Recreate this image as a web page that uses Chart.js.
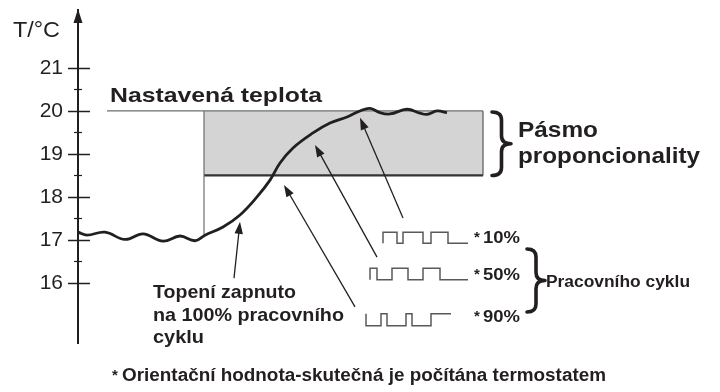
<!DOCTYPE html>
<html><head><meta charset="utf-8">
<script src="https://cdn.jsdelivr.net/npm/chart.js@4.4.1/dist/chart.umd.min.js"></script>
<style>html,body{margin:0;padding:0;background:#fff;}#wrap{width:720px;height:392px;position:relative}</style>
</head><body><div id="wrap"><canvas id="c" width="720" height="392"></canvas></div>
<script>
// ---- data (time in arbitrary units, temperature in °C) ----
const yTicks = [16, 17, 18, 19, 20, 21];
const yMinorTicks = [16.5, 17.5, 18.5, 19.5, 20.5];
const curveTime = [0, 9, 27, 47, 65, 85, 102, 117, 127, 145, 162, 179, 192, 202, 215, 235, 252, 269, 282, 292, 302, 312, 329, 342, 349, 359, 369];
const curveTemp = [17.18, 17.11, 17.18, 17.01, 17.14, 16.97, 17.09, 16.98, 17.11, 17.30, 17.58, 18.00, 18.39, 18.79, 19.14, 19.49, 19.72, 19.86, 20.00, 20.06, 19.96, 19.93, 20.04, 19.95, 19.92, 20.00, 19.96];
const setPoint = 20;
const bandLow = 18.5;
const bandTime = [126, 405];
const setLineTime = [29, 405];
const dropTemp = 17.1;
const wave10Time = [305, 319, 325, 345, 353, 370, 378, 390];
const wave10Level = [0, 1, 0, 1, 0, 1, 0, 0];
const wave10Temp = [16.92, 17.18];
const wave50Time = [292, 299, 314, 330, 345, 362, 379, 390];
const wave50Level = [0, 1, 0, 1, 0, 1, 0, 0];
const wave50Temp = [16.07, 16.34];
const wave90Time = [288, 303, 309, 328, 334, 353, 359, 373];
const wave90Level = [1, 0, 1, 0, 1, 0, 1, 1];
const wave90Temp = [15.00, 15.28];
const arrowFromTime = [156, 277, 299, 325];
const arrowFromTemp = [16.11, 15.44, 16.60, 17.51];
const arrowToTime = [162, 206, 237, 282];
const arrowToTemp = [17.42, 18.28, 19.21, 19.84];

const ink = '#231f20';
const FONT = '"Liberation Sans", Arial, Helvetica, sans-serif';

const pts = (xs, ys) => xs.map((x, i) => ({x, y: ys[i]}));
const wavePts = (xs, lv, t) => xs.map((x, i) => ({x, y: t[lv[i]]}));
const thin = (data, color, width) => ({data, borderColor: color, borderWidth: width, pointRadius: 0, fill: false, tension: 0});

const datasets = [
  {data: pts(curveTime, curveTemp), borderColor: ink, borderWidth: 2.8, pointRadius: 0, tension: 0.4, fill: false, order: 0},
  Object.assign(thin(pts(setLineTime, [setPoint, setPoint]), '#6d6e70', 1.2), {order: 1}),
  Object.assign(thin(pts([bandTime[0], bandTime[0]], [setPoint, dropTemp]), '#6d6e70', 1.2), {order: 1}),
  Object.assign(thin(pts([bandTime[1], bandTime[1]], [setPoint, bandLow]), '#58595b', 1.2), {order: 1}),
  Object.assign(thin(pts(bandTime, [bandLow, bandLow]), '#333', 2.2), {order: 1}),
  {data: pts(bandTime, [setPoint, setPoint]), borderWidth: 0, pointRadius: 0, fill: {value: bandLow}, backgroundColor: '#d4d4d5', order: 5},
  Object.assign(thin(wavePts(wave10Time, wave10Level, wave10Temp), '#58595b', 1.5), {stepped: 'after', order: 1}),
  Object.assign(thin(wavePts(wave50Time, wave50Level, wave50Temp), '#58595b', 1.5), {stepped: 'after', order: 1}),
  Object.assign(thin(wavePts(wave90Time, wave90Level, wave90Temp), '#58595b', 1.5), {stepped: 'after', order: 1})
];

function txt(ctx, s, x, y, size, bold, w) {
  ctx.save();
  ctx.font = (bold ? 'bold ' : '') + size + 'px ' + FONT;
  ctx.textBaseline = 'alphabetic'; ctx.textAlign = 'left'; ctx.fillStyle = ink;
  const m = ctx.measureText(s).width;
  const sx = w ? w / m : 1;
  ctx.translate(x, y); ctx.scale(sx, 1); ctx.fillText(s, 0, 0);
  ctx.restore();
}
function brace(ctx, x, y1, y2, w) {
  const ym = (y1 + y2) / 2, xm = x + w * 0.5, r = Math.min(8, (y2 - y1) / 6);
  ctx.save(); ctx.strokeStyle = ink; ctx.lineWidth = 3.6; ctx.lineCap = 'round'; ctx.lineJoin = 'round';
  ctx.beginPath();
  ctx.moveTo(x, y1);
  ctx.quadraticCurveTo(xm, y1, xm, y1 + r);
  ctx.lineTo(xm, ym - r);
  ctx.quadraticCurveTo(xm, ym, x + w, ym);
  ctx.quadraticCurveTo(xm, ym, xm, ym + r);
  ctx.lineTo(xm, y2 - r);
  ctx.quadraticCurveTo(xm, y2, x, y2);
  ctx.stroke(); ctx.restore();
}
function star(ctx, x, y) { txt(ctx, '*', x, y - 1, 15, true); }

const deco = {
  id: 'deco',
  afterDraw(chart) {
    const ctx = chart.ctx, xs = chart.scales.x, ys = chart.scales.y;
    const X = v => xs.getPixelForValue(v), Y = v => ys.getPixelForValue(v);
    const ax = chart.chartArea.left;
    ctx.save();
    // axis arrow head
    ctx.fillStyle = ink; ctx.beginPath();
    ctx.moveTo(ax, ys.top - 1); ctx.lineTo(ax - 4.5, ys.top + 13); ctx.lineTo(ax + 4.5, ys.top + 13); ctx.closePath(); ctx.fill();
    // tick marks
    ctx.strokeStyle = ink; ctx.lineWidth = 1.5;
    yTicks.forEach(v => { const y = Math.round(Y(v)) + 0.5; ctx.beginPath(); ctx.moveTo(ax - 10, y); ctx.lineTo(ax + 12, y); ctx.stroke(); });
    ctx.lineWidth = 1.2;
    yMinorTicks.forEach(v => { const y = Math.round(Y(v)) + 0.5; ctx.beginPath(); ctx.moveTo(ax - 4, y); ctx.lineTo(ax + 4, y); ctx.stroke(); });
    // arrows
    for (let i = 0; i < arrowFromTime.length; i++) {
      const x1 = X(arrowFromTime[i]), y1 = Y(arrowFromTemp[i]);
      const x2 = X(arrowToTime[i]), y2 = Y(arrowToTemp[i]);
      const a = Math.atan2(y2 - y1, x2 - x1), L = 12, H = 4.2;
      ctx.strokeStyle = ink; ctx.lineWidth = 1.3;
      ctx.beginPath(); ctx.moveTo(x1, y1); ctx.lineTo(x2 - Math.cos(a) * 8, y2 - Math.sin(a) * 8); ctx.stroke();
      ctx.fillStyle = ink; ctx.beginPath();
      ctx.moveTo(x2, y2);
      ctx.lineTo(x2 - L * Math.cos(a) + H * Math.sin(a), y2 - L * Math.sin(a) - H * Math.cos(a));
      ctx.lineTo(x2 - L * Math.cos(a) - H * Math.sin(a), y2 - L * Math.sin(a) + H * Math.cos(a));
      ctx.closePath(); ctx.fill();
    }
    ctx.restore();
    // braces
    brace(ctx, 492, Y(setPoint) + 1, Y(bandLow), 19);
    brace(ctx, 527, 249, 312, 18);
    // texts
    txt(ctx, 'T/°C', 13, 37, 22, false, 47);
    txt(ctx, 'Nastavená teplota', 110, 102, 21, true, 212);
    txt(ctx, 'Pásmo', 518, 137, 22, true, 80);
    txt(ctx, 'proponcionality', 518, 163, 22, true, 182);
    txt(ctx, 'Topení zapnuto', 153, 298, 19, true, 143);
    txt(ctx, 'na 100% pracovního', 153, 321, 19, true, 191);
    txt(ctx, 'cyklu', 153, 343, 19, true, 51);
    star(ctx, 474, 243); txt(ctx, '10%', 483, 243, 16, true, 37);
    star(ctx, 474, 280); txt(ctx, '50%', 483, 280, 16, true, 37);
    star(ctx, 474, 322); txt(ctx, '90%', 483, 322, 16, true, 37);
    txt(ctx, 'Pracovního cyklu', 546, 287, 16, true, 144);
    star(ctx, 112, 381);
    txt(ctx, 'Orientační hodnota-skutečná je počítána termostatem', 122, 381, 18, true, 484);
  }
};

new Chart(document.getElementById('c'), {
  type: 'line',
  data: {datasets},
  options: {
    responsive: false, animation: false, devicePixelRatio: 1,
    layout: {padding: {top: 10, bottom: 49, left: 0, right: 0}},
    plugins: {legend: {display: false}, tooltip: {enabled: false}},
    scales: {
      x: {type: 'linear', min: 0, max: 642, display: false},
      y: {
        type: 'linear', min: 14.6, max: 22.35, position: 'left',
        afterFit(s) { s.width = 78; s.paddingTop = 0; s.paddingBottom = 0; },
        afterBuildTicks(s) { s.ticks = yTicks.map(v => ({value: v})); },
        grid: {display: false, drawTicks: false},
        border: {display: true, color: ink, width: 2},
        ticks: {padding: 15, color: ink, font: {family: 'Liberation Sans', size: 21}}
      }
    }
  },
  plugins: [deco]
});
</script></body></html>
